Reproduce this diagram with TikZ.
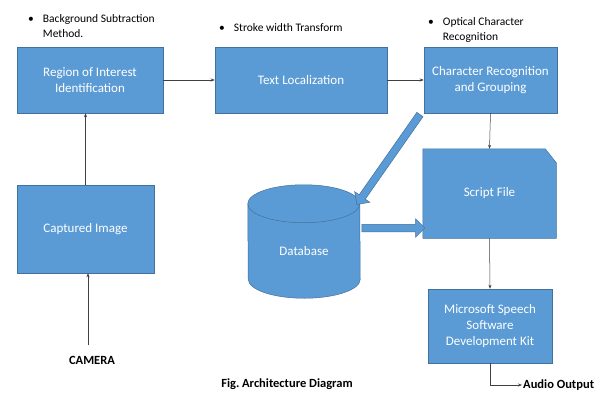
\documentclass[tikz,border=0pt]{standalone}
\usepackage{fontspec}
\setmainfont{Carlito}
\usetikzlibrary{positioning,calc,shapes.arrows,arrows.meta}
\definecolor{boxblue}{HTML}{5B9BD5}
\definecolor{boxline}{HTML}{41719C}
\definecolor{wire}{HTML}{404040}

\tikzset{
  box/.style={rectangle, fill=boxblue, draw=boxline, line width=0.5pt,
    text=white, align=center, font=\fontsize{13}{16}\selectfont},
  note/.style={anchor=base west, inner sep=0pt, font=\fontsize{11.5}{15}\selectfont},
  label/.style={font=\bfseries\fontsize{12.5}{14}\selectfont},
  wirearrow/.style={draw=wire, line width=0.5pt, -{Stealth[length=4pt,width=3pt]}},
  blockarrow/.style={single arrow, fill=boxblue, draw=boxline, line width=0.5pt,
    inner sep=3.5pt, single arrow head extend=5.5pt, single arrow tip angle=90}
}

\begin{document}
\begin{tikzpicture}[x=1pt, y=-1pt]
      \useasboundingbox (0,0) rectangle (603,392);
      % Define nodes
      \node[box, minimum width=146pt, minimum height=66pt] (roi) at (90,80) {Region of Interest\\Identification};
      \node[box, minimum width=172pt, minimum height=66pt] (tl) at (301,80) {Text Localization};
      \node[box, minimum width=133pt, minimum height=66pt] (cr) at (490.5,80) {Character Recognition\\and Grouping};
      \node[box, minimum width=137pt, minimum height=88pt] (cap) at (85.5,229) {Captured Image};
      \node[box, minimum width=124pt, minimum height=74pt] (ms) at (490,326) {Microsoft Speech\\Software\\Development Kit};
      % script file, folded corner
      \node[box, draw=none, fill=none, minimum width=133pt, minimum height=89pt] (scr) at (489.5,193.5) {};
      \fill[boxblue, draw=boxline, line width=0.5pt] (scr.north west) -- ([xshift=-11pt]scr.north east)
        -- ([yshift=-14pt]scr.north east) -- (scr.south east) -- (scr.south west) -- cycle;
      \node[box, draw=none, fill=none] at (scr) {Script File};
      % database cylinder
      \node[box, draw=none, fill=none, minimum width=112pt, minimum height=113pt] (db) at (304,241.5) {};
      \fill[boxblue, draw=boxline, line width=0.5pt] ([yshift=-19pt]db.north west)
        arc[start angle=180, end angle=0, x radius=56pt, y radius=19pt]
        -- ([yshift=19pt]db.south east)
        arc[start angle=0, end angle=-180, x radius=56pt, y radius=19pt] -- cycle;
      \draw[boxline, line width=0.5pt] ([yshift=-19pt]db.north west)
        arc[start angle=180, end angle=360, x radius=56pt, y radius=19pt];
      \node[box, draw=none, fill=none] at (304,251) {Database};

      % Notes
      \node[note] (n1) at (28,22) {\begin{tabular}[t]{@{}l@{\hspace{9pt}}l@{}}\textbullet & Background Subtraction\\ & Method.\end{tabular}};
      \node[note] (n2) at (219,31) {\begin{tabular}[t]{@{}l@{\hspace{9pt}}l@{}}\textbullet & Stroke width Transform\end{tabular}};
      \node[note] (n3) at (428,25) {\begin{tabular}[t]{@{}l@{\hspace{9pt}}l@{}}\textbullet & Optical Character\\ & Recognition\end{tabular}};

      \node[label] (camera) at (92,360) {CAMERA};
      \node[label, anchor=west, inner sep=1pt] (audio) at (522,385) {Audio Output};
      \node[label] (caption) at (287,384) {Fig.\ Architecture Diagram};

      % Connectors
      \draw[wirearrow] (roi) -- (tl);
      \draw[wirearrow] (tl) -- (cr);
      \draw[wirearrow] (cap.north) -- (cap.north |- roi.south);
      \coordinate (camtop) at (88,345);
      \draw[wirearrow] (camtop) -- (camtop |- cap.south);
      \draw[wirearrow] (cr.south) -- (scr.north);
      \draw[wirearrow] (scr.south) -- (ms.north);
      \draw[wirearrow] (ms.south) |- (audio.west);

      % Block arrows
      \coordinate (d1) at (421,113);
      \coordinate (d2) at (358,203);
      \coordinate (h1) at (360,228);
      \coordinate (h2) at (423,228);
      \path let \p1=($(d2)-(d1)$), \n1={atan2(\y1,\x1)}, \n2={veclen(\x1,\y1)} in
        node[blockarrow, minimum height=\n2, rotate=\n1] at ($(d1)!0.5!(d2)$) {};
      \path let \p1=($(h2)-(h1)$), \n1={atan2(\y1,\x1)}, \n2={veclen(\x1,\y1)} in
        node[blockarrow, minimum height=\n2, rotate=\n1] at ($(h1)!0.5!(h2)$) {};
    \end{tikzpicture}
\end{document}
